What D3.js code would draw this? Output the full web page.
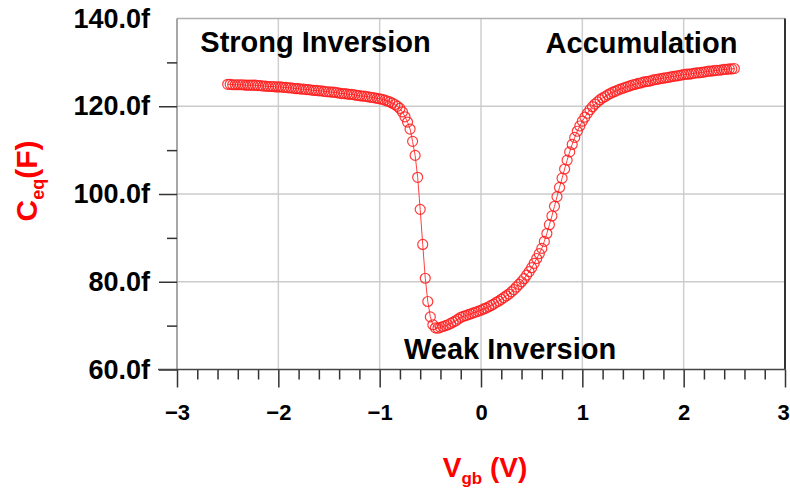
<!DOCTYPE html>
<html>
<head>
<meta charset="utf-8">
<script src="https://d3js.org/d3.v7.min.js"></script>
<style>
    body { margin: 0; background: #fff; }
    svg { display: block; font-family: Arial, "Liberation Sans", sans-serif; }
</style>
</head>
<body>
<div id="chart"></div>
<script>
// gate-bulk voltage sweep (V)
const vgb = [
    -2.5, -2.475, -2.45, -2.425, -2.4, -2.375, -2.35, -2.325, -2.3, -2.275,
    -2.25, -2.225, -2.2, -2.175, -2.15, -2.125, -2.1, -2.075, -2.05, -2.025,
    -2, -1.975, -1.95, -1.925, -1.9, -1.875, -1.85, -1.825, -1.8, -1.775,
    -1.75, -1.725, -1.7, -1.675, -1.65, -1.625, -1.6, -1.575, -1.55, -1.525,
    -1.5, -1.475, -1.45, -1.425, -1.4, -1.375, -1.35, -1.325, -1.3, -1.275,
    -1.25, -1.225, -1.2, -1.175, -1.15, -1.125, -1.1, -1.075, -1.05, -1.025,
    -1, -0.975, -0.95, -0.925, -0.9, -0.875, -0.85, -0.825, -0.8, -0.775,
    -0.75, -0.725, -0.7, -0.675, -0.65, -0.625, -0.6, -0.575, -0.55, -0.525,
    -0.5, -0.475, -0.45, -0.425, -0.4, -0.375, -0.35, -0.325, -0.3, -0.275,
    -0.25, -0.225, -0.2, -0.175, -0.15, -0.125, -0.1, -0.075, -0.05, -0.025,
    0, 0.025, 0.05, 0.075, 0.1, 0.125, 0.15, 0.175, 0.2, 0.225,
    0.25, 0.275, 0.3, 0.325, 0.35, 0.375, 0.4, 0.425, 0.45, 0.475,
    0.5, 0.525, 0.55, 0.575, 0.6, 0.625, 0.65, 0.675, 0.7, 0.725,
    0.75, 0.775, 0.8, 0.825, 0.85, 0.875, 0.9, 0.925, 0.95, 0.975,
    1, 1.025, 1.05, 1.075, 1.1, 1.125, 1.15, 1.175, 1.2, 1.225,
    1.25, 1.275, 1.3, 1.325, 1.35, 1.375, 1.4, 1.425, 1.45, 1.475,
    1.5, 1.525, 1.55, 1.575, 1.6, 1.625, 1.65, 1.675, 1.7, 1.725,
    1.75, 1.775, 1.8, 1.825, 1.85, 1.875, 1.9, 1.925, 1.95, 1.975,
    2, 2.025, 2.05, 2.075, 2.1, 2.125, 2.15, 2.175, 2.2, 2.225,
    2.25, 2.275, 2.3, 2.325, 2.35, 2.375, 2.4, 2.425, 2.45, 2.475,
    2.5
];

// equivalent capacitance (fF)
const ceq = [
    125.0, 125.0, 124.9, 124.9, 124.9, 124.9, 124.9, 124.8, 124.8, 124.8,
    124.8, 124.8, 124.7, 124.7, 124.6, 124.6, 124.5, 124.5, 124.5, 124.4,
    124.4, 124.4, 124.3, 124.3, 124.2, 124.2, 124.1, 124.0, 124.0, 123.9,
    123.9, 123.8, 123.8, 123.7, 123.6, 123.6, 123.5, 123.5, 123.4, 123.3,
    123.3, 123.2, 123.2, 123.1, 123.0, 122.9, 122.9, 122.8, 122.7, 122.7,
    122.6, 122.5, 122.4, 122.3, 122.3, 122.2, 122.1, 122.0, 121.9, 121.8,
    121.7, 121.6, 121.4, 121.2, 121.0, 120.7, 120.4, 120.0, 119.5, 118.7,
    117.6, 116.4, 114.8, 112.0, 108.8, 103.8, 96.5, 88.5, 80.8, 75.5,
    72.0, 70.2, 69.5, 69.4, 69.6, 69.8, 70.0, 70.2, 70.5, 70.8,
    71.1, 71.5, 71.9, 72.1, 72.3, 72.5, 72.7, 72.9, 73.1, 73.3,
    73.5, 73.8, 74.0, 74.3, 74.6, 74.9, 75.3, 75.6, 76.0, 76.4,
    76.8, 77.2, 77.7, 78.2, 78.8, 79.4, 80.0, 80.7, 81.5, 82.3,
    83.2, 84.2, 85.3, 86.4, 87.6, 89.2, 91.0, 93.0, 95.0, 97.2,
    99.4, 101.5, 103.6, 105.7, 107.7, 109.6, 111.3, 112.9, 114.3, 115.5,
    116.6, 117.5, 118.4, 119.2, 119.9, 120.5, 121.0, 121.5, 121.9, 122.2,
    122.6, 122.9, 123.2, 123.4, 123.7, 123.9, 124.1, 124.3, 124.5, 124.7,
    124.9, 125.0, 125.2, 125.3, 125.5, 125.6, 125.7, 125.8, 126.0, 126.1,
    126.2, 126.3, 126.4, 126.5, 126.6, 126.7, 126.8, 126.9, 127.0, 127.1,
    127.2, 127.3, 127.3, 127.4, 127.5, 127.6, 127.6, 127.7, 127.8, 127.9,
    128.0, 128.0, 128.1, 128.2, 128.2, 128.3, 128.4, 128.4, 128.5, 128.5,
    128.6
];

const xTicks = [-3, -2, -1, 0, 1, 2, 3];
const xMinorTicks = [-2.8, -2.6, -2.4, -2.2, -1.8, -1.6, -1.4, -1.2, -0.8, -0.6, -0.4, -0.2,
                     0.2, 0.4, 0.6, 0.8, 1.2, 1.4, 1.6, 1.8, 2.2, 2.4, 2.6, 2.8];
const yTicks = [60, 80, 100, 120, 140];
const yMinorTicks = [70, 90, 110, 130];

const regionLabels = [
    { text: 'Strong Inversion', v: -2.77, c: 132.4, anchor: 'start' },
    { text: 'Accumulation', v: 2.53, c: 132.1, anchor: 'end' },
    { text: 'Weak Inversion', v: -0.76, c: 62.4, anchor: 'start' }
];

const width = 790;
const height = 498;
const plot = { left: 177, right: 785, top: 18.5, bottom: 369.5 };

const data = vgb.map((v, i) => ({ v, c: ceq[i] }));

const x = d3.scaleLinear().domain([-3, 3]).range([plot.left, plot.right]);
const y = d3.scaleLinear().domain([60, 140]).range([plot.bottom, plot.top]);

const svg = d3.select('#chart')
    .append('svg')
    .attr('width', width)
    .attr('height', height);

// grid
svg.append('g')
    .selectAll('line')
    .data(xTicks.slice(1, -1))
    .enter().append('line')
    .attr('x1', d => x(d)).attr('x2', d => x(d))
    .attr('y1', plot.top).attr('y2', plot.bottom)
    .style('stroke', '#cfcfcf')
    .style('stroke-width', 1.5);

svg.append('g')
    .selectAll('line')
    .data(yTicks.slice(1, -1))
    .enter().append('line')
    .attr('x1', plot.left).attr('x2', plot.right)
    .attr('y1', d => y(d)).attr('y2', d => y(d))
    .style('stroke', '#cbcbcb')
    .style('stroke-width', 1.5);

// frame
svg.append('line')
    .attr('x1', plot.left).attr('x2', plot.right)
    .attr('y1', plot.top).attr('y2', plot.top)
    .style('stroke', '#b0b0b0').style('stroke-width', 1.5);
svg.append('line')
    .attr('x1', plot.right).attr('x2', plot.right)
    .attr('y1', plot.top).attr('y2', plot.bottom)
    .style('stroke', '#333').style('stroke-width', 2);
svg.append('line')
    .attr('x1', plot.left).attr('x2', plot.left)
    .attr('y1', plot.top).attr('y2', plot.bottom)
    .style('stroke', '#8a8a8a').style('stroke-width', 1.5);

// x axis
const xMajor = svg.append('g')
    .attr('transform', `translate(0,${plot.bottom})`)
    .call(d3.axisBottom(x).tickValues(xTicks).tickSize(18).tickPadding(17)
        .tickFormat(d3.format('d')));
const xMinor = svg.append('g')
    .attr('transform', `translate(0,${plot.bottom})`)
    .call(d3.axisBottom(x).tickValues(xMinorTicks).tickSize(10).tickFormat(''));

// y axis
const yMajor = svg.append('g')
    .attr('transform', `translate(${plot.left},0)`)
    .call(d3.axisLeft(y).tickValues(yTicks).tickSize(18).tickPadding(9)
        .tickFormat(d => d.toFixed(1) + 'f'));
const yMinor = svg.append('g')
    .attr('transform', `translate(${plot.left},0)`)
    .call(d3.axisLeft(y).tickValues(yMinorTicks).tickSize(10).tickFormat(''));

[xMajor, xMinor, yMajor, yMinor].forEach(g => {
    g.select('.domain').remove();
    g.selectAll('.tick line').style('stroke', '#333').style('stroke-width', 1.5);
});
yMajor.selectAll('.tick')
    .filter(d => d === 140)
    .select('line').remove();

xMajor.selectAll('.tick text')
    .style('font-size', '22px')
    .style('font-weight', 'bold')
    .style('fill', '#000');
// last label sits on the frame edge, nudge it in
xMajor.selectAll('.tick text')
    .filter(d => d === 3)
    .attr('dx', -2);
yMajor.selectAll('.tick text')
    .style('font-size', '27px')
    .style('font-weight', 'bold')
    .style('fill', '#000');

svg.append('line')
    .attr('x1', 158).attr('x2', plot.right)
    .attr('y1', plot.bottom).attr('y2', plot.bottom)
    .style('stroke', '#444').style('stroke-width', 1.5);

// curve + markers
svg.append('path')
    .datum(data)
    .attr('d', d3.line().x(d => x(d.v)).y(d => y(d.c)))
    .style('fill', 'none')
    .style('stroke', '#ff4040')
    .style('stroke-width', 1);

svg.append('g')
    .selectAll('circle')
    .data(data)
    .enter().append('circle')
    .attr('cx', d => x(d.v))
    .attr('cy', d => y(d.c))
    .attr('r', 5)
    .style('fill', 'none')
    .style('stroke', '#ff1a1a')
    .style('stroke-opacity', 0.85)
    .style('stroke-width', 1.2);

// region labels
svg.append('g')
    .selectAll('text')
    .data(regionLabels)
    .enter().append('text')
    .attr('x', d => x(d.v))
    .attr('y', d => y(d.c))
    .attr('text-anchor', d => d.anchor)
    .style('font-size', '29px')
    .style('font-weight', 'bold')
    .style('fill', '#000')
    .text(d => d.text);

// axis titles
const xTitle = svg.append('text')
    .attr('x', 485)
    .attr('y', 477)
    .attr('text-anchor', 'middle')
    .style('font-size', '28px')
    .style('font-weight', 'bold')
    .style('fill', '#ff0000');
xTitle.append('tspan').text('V');
xTitle.append('tspan').attr('dy', 7).style('font-size', '17px').text('gb');
xTitle.append('tspan').attr('dy', -7).text(' (V)');

const yTitle = svg.append('text')
    .attr('transform', 'translate(37,181) rotate(-90)')
    .attr('text-anchor', 'middle')
    .style('font-size', '30px')
    .style('font-weight', 'bold')
    .style('fill', '#ff0000');
yTitle.append('tspan').text('C');
yTitle.append('tspan').attr('dy', 7).style('font-size', '18px').text('eq');
yTitle.append('tspan').attr('dy', -7).text('(F)');
</script>
</body>
</html>
